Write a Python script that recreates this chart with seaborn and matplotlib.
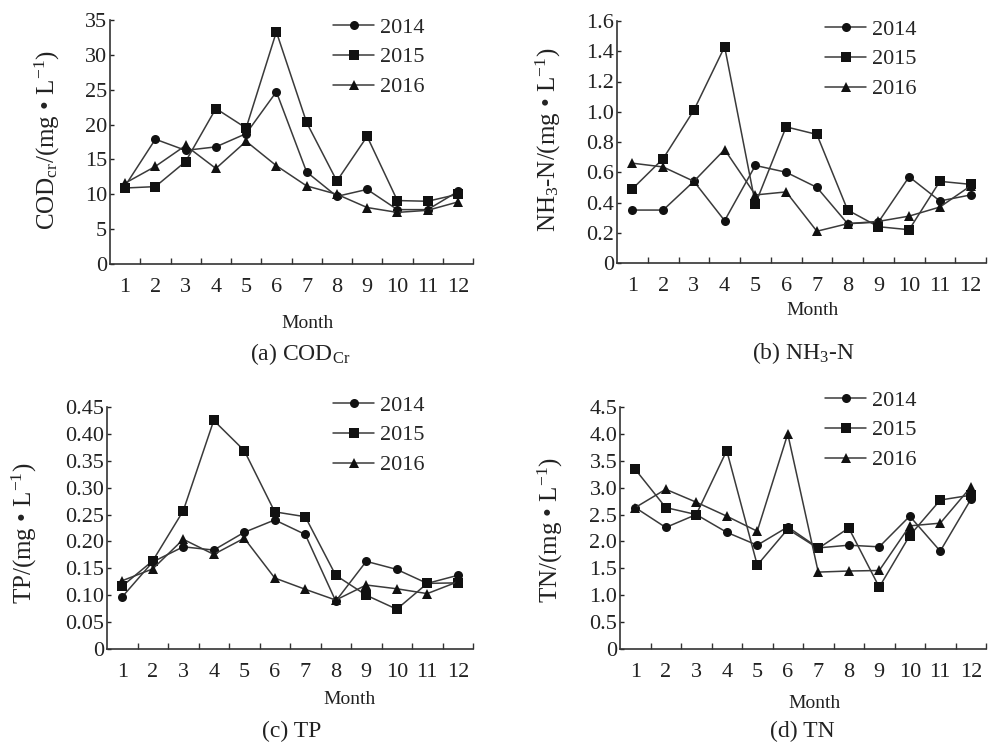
import matplotlib
matplotlib.use("Agg")
import matplotlib.pyplot as plt
import seaborn as sns
import pandas as pd
import numpy as np

months = list(range(1, 13))
years = ["2014", "2015", "2016"]

cod_2014 = [11.2, 17.9, 16.3, 16.8, 18.7, 24.7, 13.2, 9.7, 10.7, 7.8, 7.8, 10.4]
cod_2015 = [10.9, 11.1, 14.7, 22.3, 19.5, 33.3, 20.3, 11.9, 18.3, 9.1, 9.0, 10.0]
cod_2016 = [11.6, 14.0, 17.0, 13.7, 17.6, 14.1, 11.2, 10.0, 8.1, 7.4, 7.7, 8.9]

nh3_2014 = [0.35, 0.35, 0.54, 0.28, 0.645, 0.60, 0.50, 0.26, 0.27, 0.57, 0.41, 0.45]
nh3_2015 = [0.49, 0.69, 1.01, 1.43, 0.39, 0.90, 0.85, 0.35, 0.24, 0.22, 0.54, 0.52]
nh3_2016 = [0.66, 0.635, 0.54, 0.75, 0.45, 0.47, 0.21, 0.26, 0.275, 0.31, 0.37, 0.51]

tp_2014 = [0.097, 0.162, 0.19, 0.184, 0.217, 0.24, 0.213, 0.089, 0.163, 0.148, 0.122, 0.137]
tp_2015 = [0.117, 0.164, 0.257, 0.425, 0.369, 0.255, 0.246, 0.137, 0.10, 0.074, 0.122, 0.123]
tp_2016 = [0.127, 0.149, 0.204, 0.176, 0.206, 0.132, 0.111, 0.091, 0.119, 0.112, 0.103, 0.125]

tn_2014 = [2.63, 2.26, 2.50, 2.17, 1.93, 2.27, 1.88, 1.93, 1.90, 2.47, 1.82, 2.78]
tn_2015 = [3.34, 2.63, 2.50, 3.69, 1.56, 2.23, 1.87, 2.25, 1.15, 2.11, 2.77, 2.86]
tn_2016 = [2.63, 2.97, 2.73, 2.47, 2.19, 4.00, 1.43, 1.45, 1.46, 2.29, 2.34, 3.01]

cod_ticks = [0, 5, 10, 15, 20, 25, 30, 35]
cod_ticklabels = ["0", "5", "10", "15", "20", "25", "30", "35"]
nh3_ticks = [0, 0.2, 0.4, 0.6, 0.8, 1.0, 1.2, 1.4, 1.6]
nh3_ticklabels = ["0", "0.2", "0.4", "0.6", "0.8", "1.0", "1.2", "1.4", "1.6"]
tp_ticks = [0, 0.05, 0.10, 0.15, 0.20, 0.25, 0.30, 0.35, 0.40, 0.45]
tp_ticklabels = ["0", "0.05", "0.10", "0.15", "0.20", "0.25", "0.30", "0.35", "0.40", "0.45"]
tn_ticks = [0, 0.5, 1.0, 1.5, 2.0, 2.5, 3.0, 3.5, 4.0, 4.5]
tn_ticklabels = ["0", "0.5", "1.0", "1.5", "2.0", "2.5", "3.0", "3.5", "4.0", "4.5"]

ylabels = [r"COD$_{\rm cr}$/(mg • L$^{-1}$)", r"NH$_3$-N/(mg • L$^{-1}$)",
           r"TP/(mg • L$^{-1}$)", r"TN/(mg • L$^{-1}$)"]
captions = [r"(a) COD$_{\rm Cr}$", r"(b) NH$_3$-N", "(c) TP", "(d) TN"]

sns.set_theme(style="ticks")
plt.rcParams["font.family"] = ["Liberation Serif", "DejaVu Serif"]
plt.rcParams["mathtext.fontset"] = "custom"
plt.rcParams["mathtext.rm"] = "Liberation Serif"
plt.rcParams["mathtext.it"] = "Liberation Serif:italic"
plt.rcParams["axes.unicode_minus"] = True

W, H = 998, 745
fig = plt.figure(figsize=(W / 100, H / 100), dpi=100)
fig.patch.set_facecolor("white")

# pixel boxes: left, right, top, bottom
boxes = [(110, 473, 20, 264), (617, 986, 21, 263), (107, 473, 407, 649), (620, 986, 407, 649)]
datasets = [
    (cod_2014, cod_2015, cod_2016, cod_ticks, cod_ticklabels),
    (nh3_2014, nh3_2015, nh3_2016, nh3_ticks, nh3_ticklabels),
    (tp_2014, tp_2015, tp_2016, tp_ticks, tp_ticklabels),
    (tn_2014, tn_2015, tn_2016, tn_ticks, tn_ticklabels),
]
# visual centre of the y labels (pixels)
ylabel_pos = [(50, 140), (551, 140), (27, 533), (553, 530)]
legend_anchor = [(333, 17), (825, 19), (333, 395), (825, 390)]
month_pos = [(308, 323), (813, 310), (350, 700), (815, 703)]
caption_pos = [(300, 354), (803, 353), (292, 731), (802, 731)]

line_col = "#3a3a3a"
markers = {"2014": "o", "2015": "s", "2016": "^"}
palette = {y: line_col for y in years}

for i, (box, ds) in enumerate(zip(boxes, datasets)):
    l, r, t, b = box
    ax = fig.add_axes([l / W, (H - b) / H, (r - l) / W, (b - t) / H])
    s14, s15, s16, yt, ytl = ds
    df = pd.DataFrame({
        "Month": months * 3,
        "value": s14 + s15 + s16,
        "year": ["2014"] * 12 + ["2015"] * 12 + ["2016"] * 12,
    })
    sns.lineplot(data=df, x="Month", y="value", hue="year", style="year",
                 markers=markers, dashes=False, palette=palette, ax=ax,
                 linewidth=1.1, markersize=6.5, markeredgewidth=0,
                 markerfacecolor="#111111", legend=True)
    for ln in ax.lines:
        ln.set_markerfacecolor("#111111")
        ln.set_markeredgecolor("#111111")
    ax.set_xlim(0.5, 12.5)
    ax.set_ylim(yt[0], yt[-1])
    ax.set_yticks(yt)
    ax.set_yticklabels(ytl)
    ax.set_xticks(months)
    ax.set_xticklabels([str(m) for m in months])
    ax.set_xticks([m + 0.5 for m in months], minor=True)
    ax.tick_params(axis="x", which="major", length=0, pad=10, labelsize=16, colors="#222222")
    ax.tick_params(axis="x", which="minor", length=4, direction="in", width=1.0, color="#333333")
    ax.tick_params(axis="y", which="major", length=3, direction="in", pad=2, labelsize=16,
                   width=1.0, colors="#222222")
    for side in ["top", "right"]:
        ax.spines[side].set_visible(False)
    for side in ["left", "bottom"]:
        ax.spines[side].set_color("#333333")
        ax.spines[side].set_linewidth(1.2)
    ax.set_xlabel("")
    ax.set_ylabel(ylabels[i], fontsize=18, color="#222222")
    lx, ly = ylabel_pos[i]
    ax.yaxis.set_label_coords((lx + 12 - l) / (r - l), (b - ly) / (b - t))
    ax.set_facecolor("white")

    handles, labels = ax.get_legend_handles_labels()
    ax_x, ax_y = legend_anchor[i]
    ax.legend(handles, labels, loc="upper left",
              bbox_to_anchor=((ax_x - l) / (r - l), (b - ax_y) / (b - t)),
              frameon=False, fontsize=16, handlelength=1.85, handletextpad=0.25,
              labelspacing=0.42, borderpad=0, borderaxespad=0)

    mx, my = month_pos[i]
    fig.text(mx / W, 1 - my / H, "Month", ha="center", va="center", fontsize=14, color="#222222")
    cx, cy = caption_pos[i]
    fig.text(cx / W, 1 - cy / H, captions[i], ha="center", va="center", fontsize=17, color="#222222")

fig.savefig("out.png", dpi=100, facecolor="white")
